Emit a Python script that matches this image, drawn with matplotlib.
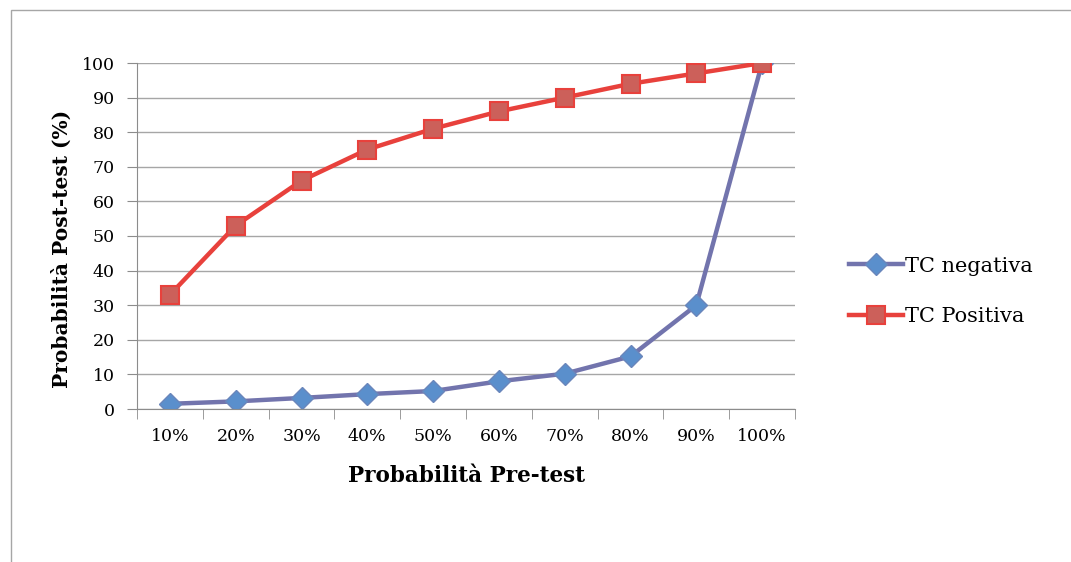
"""Probabilita post-test vs pre-test per TC negativa / positiva."""
import matplotlib.pyplot as plt
from matplotlib.patches import Rectangle

pre_test = ['10%', '20%', '30%', '40%', '50%', '60%', '70%', '80%', '90%', '100%']
tc_negativa = [1.5, 2.2, 3.2, 4.3, 5.2, 8.0, 10.2, 15.2, 30.0, 100.0]
tc_positiva = [33, 53, 66, 75, 81, 86, 90, 94, 97, 100]

plt.rcParams['font.family'] = ['DejaVu Serif']

fig = plt.figure(figsize=(10.71, 5.62), dpi=100)
fig.patches.append(Rectangle((11 / 1071, -0.1), 1.2, 1 - 10 / 562 + 0.1,
                             transform=fig.transFigure, fill=False,
                             edgecolor='#a6a6a6', linewidth=1.0))
ax = fig.add_axes([137 / 1071, 1 - 409 / 562, (795 - 137) / 1071, (409 - 63) / 562])

x = list(range(len(pre_test)))
ax.plot(x, tc_negativa, color='#7274ad', linewidth=3.2, marker='D',
        markersize=11, markerfacecolor='#5a8fcc', markeredgecolor='#6a86bb',
        markeredgewidth=1.0, label='TC negativa')
ax.plot(x, tc_positiva, color='#e8413c', linewidth=3.2, marker='s',
        markersize=13, markerfacecolor='#cc605a', markeredgecolor='#e8413c',
        markeredgewidth=1.5, label='TC Positiva')

ax.set_xlim(-0.5, len(pre_test) - 0.5)
ax.set_ylim(0, 100)
ax.set_yticks(range(0, 101, 10))
ax.set_xticks(x)
ax.set_xticklabels(pre_test)
ax.set_xticks([i - 0.5 for i in range(len(pre_test) + 1)], minor=True)
ax.tick_params(axis='x', which='major', length=0, pad=14, labelsize=12.5)
ax.tick_params(axis='x', which='minor', length=7, color='#8c8c8c', direction='out')
ax.tick_params(axis='y', length=7, color='#8c8c8c', direction='out', labelsize=12.5, pad=9)
ax.grid(axis='y', color='#a6a6a6', linewidth=1.0)
ax.set_axisbelow(True)
for side in ['top', 'right']:
    ax.spines[side].set_visible(False)
for side in ['left', 'bottom']:
    ax.spines[side].set_color('#8c8c8c')

ax.set_xlabel('Probabilità Pre-test', fontsize=15.5, fontweight='bold', labelpad=14)
ax.set_ylabel('Probabilità Post-test (%)', fontsize=14.5, fontweight='bold')
ax.yaxis.set_label_coords(-0.099, 0.462)

ax.legend(loc='center left', bbox_to_anchor=(1.053, 0.34), frameon=False,
          fontsize=15, handlelength=2.6, labelspacing=1.5, handletextpad=0.1)

fig.savefig('out.png', dpi=100)
